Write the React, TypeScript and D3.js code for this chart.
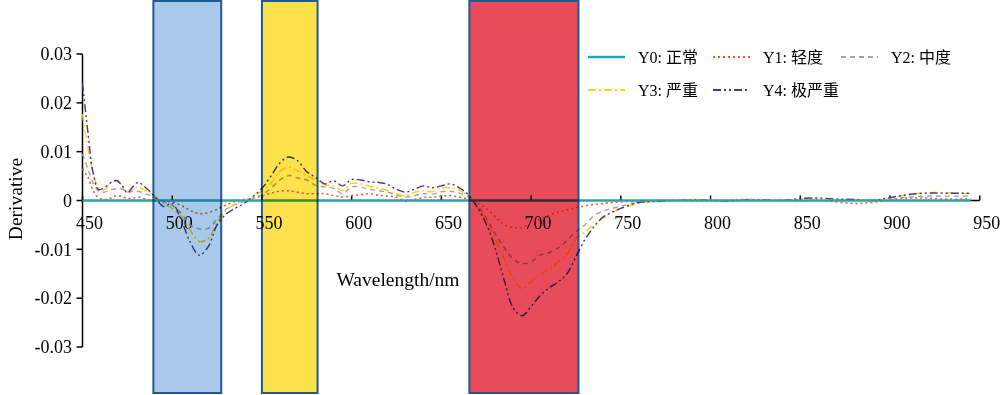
import React from 'react';
import * as d3 from 'd3';

// ---------- data ----------
const wavelengths = [450, 453, 456, 459, 462, 466, 469, 472, 475, 478, 481, 485, 490, 495, 500, 505, 510, 515, 520, 525, 530, 535, 540, 545, 550, 555, 560, 565, 570, 575, 580, 585, 590, 595, 600, 605, 610, 615, 620, 625, 630, 635, 640, 645, 650, 655, 660, 665, 670, 675, 680, 685, 690, 695, 700, 705, 710, 715, 720, 725, 730, 735, 740, 745, 750, 760, 770, 780, 790, 800, 810, 820, 830, 840, 850, 860, 870, 880, 890, 900, 910, 920, 930, 945];

const y0Wavelengths = [450, 945];
const y0Values = [0, 0];

const y1Values = [0.0065, 0.0048, 0.002, 0.0005, 0.0002, 0.0005, 0.001, 0.0008, 0.0004, 0.0005, 0.0007, 0.0003, 0, -0.0002, -0.0003, -0.001, -0.002, -0.0027, -0.0025, -0.0018, -0.0009, -0.0002, 0.0002, 0.0005, 0.0009, 0.0015, 0.0019, 0.002, 0.0017, 0.0014, 0.0014, 0.0014, 0.001, 0.0007, 0.001, 0.0012, 0.0014, 0.0011, 0.0009, 0.0007, -0.0002, 0.0002, 0.0006, 0.0007, 0.0009, 0.001, 0.0007, 0.0003, -0.0005, -0.0016, -0.0033, -0.0049, -0.0055, -0.0055, -0.0046, -0.0038, -0.003, -0.0024, -0.0019, -0.0015, -0.0011, -0.0008, -0.0006, -0.0004, -0.0003, -0.0001, 0, 0.0001, -0.0001, 0, 0.0001, 0.0002, 0.0001, 0.0001, -0.0001, 0.0001, -0.0003, -0.0006, -0.0004, 0.0001, 0.0005, 0.0005, 0.0003, 0.0003];

const y2Values = [0.0095, 0.0065, 0.0035, 0.0019, 0.0017, 0.0022, 0.0024, 0.0024, 0.0017, 0.0019, 0.0019, 0.0014, 0.0007, -0.0003, -0.001, -0.0026, -0.005, -0.0058, -0.0057, -0.0038, -0.0018, -0.0008, -0.0002, 0.0004, 0.0012, 0.0025, 0.0042, 0.0051, 0.0046, 0.0042, 0.0031, 0.0028, 0.0025, 0.0014, 0.0028, 0.0027, 0.0023, 0.002, 0.0017, 0.0011, 0.0007, 0.001, 0.0014, 0.0013, 0.0018, 0.0019, 0.0015, 0.0008, -0.001, -0.0036, -0.0068, -0.0096, -0.012, -0.0129, -0.0126, -0.0112, -0.0107, -0.0097, -0.0082, -0.0064, -0.005, -0.0031, -0.0022, -0.0016, -0.0012, -0.0003, 0, 0.0001, 0.0001, 0, 0, 0.0002, 0.0001, 0, 0.0002, 0.0002, 0.0001, 0, 0, 0.0002, 0.0007, 0.0009, 0.0009, 0.0009];

const y3Values = [0.0177, 0.0109, 0.0055, 0.0026, 0.0022, 0.0037, 0.0041, 0.0031, 0.0017, 0.0024, 0.0027, 0.0021, 0.001, -0.0007, -0.0016, -0.0033, -0.0061, -0.0084, -0.0078, -0.0045, -0.002, -0.0008, 0, 0.0008, 0.0019, 0.0035, 0.006, 0.0068, 0.0061, 0.0051, 0.0042, 0.0032, 0.003, 0.002, 0.0035, 0.0034, 0.0029, 0.0025, 0.0021, 0.0014, 0.001, 0.0017, 0.002, 0.0018, 0.0026, 0.0026, 0.0021, 0.001, -0.0012, -0.004, -0.0078, -0.012, -0.016, -0.018, -0.0166, -0.0152, -0.0141, -0.0126, -0.011, -0.0078, -0.0064, -0.005, -0.0037, -0.0025, -0.0017, -0.0006, -0.0002, 0.0001, 0.0002, 0.0001, 0, 0.0001, 0.0002, 0.0001, 0.0001, 0.0002, 0.0001, 0, -0.0002, 0.0004, 0.0012, 0.0016, 0.0016, 0.0014];

const y4Values = [0.024, 0.014, 0.0055, 0.0022, 0.0026, 0.0037, 0.0041, 0.0031, 0.0016, 0.0028, 0.0037, 0.0027, 0.0009, -0.0012, -0.0006, -0.004, -0.0085, -0.0112, -0.0095, -0.005, -0.0028, -0.0016, -0.0006, 0.0008, 0.0025, 0.005, 0.0077, 0.0089, 0.0081, 0.0059, 0.0047, 0.0034, 0.004, 0.003, 0.0043, 0.0042, 0.0038, 0.0037, 0.0033, 0.0023, 0.0017, 0.0023, 0.003, 0.0026, 0.003, 0.0034, 0.0026, 0.0012, -0.0014, -0.0048, -0.0098, -0.0163, -0.022, -0.0236, -0.0217, -0.0195, -0.0179, -0.0167, -0.015, -0.0115, -0.008, -0.0054, -0.0034, -0.0024, -0.0016, -0.0004, -0.0002, 0, 0.0001, 0, -0.0001, 0.0001, 0.0001, 0, 0.0004, 0.0005, 0.0003, 0.0002, 0, 0.0006, 0.0012, 0.0015, 0.0015, 0.0015];

const seriesNames = ['Y0: 正常', 'Y1: 轻度', 'Y2: 中度', 'Y3: 严重', 'Y4: 极严重'];
const xTicks = [450, 500, 550, 600, 650, 700, 750, 800, 850, 900, 950];
const yTicks = [0.03, 0.02, 0.01, 0, -0.01, -0.02, -0.03];
const yTickLabels = ['0.03', '0.02', '0.01', '0', '-0.01', '-0.02', '-0.03'];
const bandStarts = [489.5, 550, 665.6];
const bandEnds = [527.3, 581, 726.4];

// ---------- styles ----------
const seriesColors = ['#17aabb', '#f0522a', '#a3a3a3', '#ffd21a', '#3a3a96'];
const seriesDash = ['none', '2,3', '5,4', '8,3,2,3', '8,3,2,3,2,3'];
const seriesWidth = [2, 1.5, 1.4, 1.5, 1.4];
const bandFills = ['#a9c9eb', '#ffe14b', '#e84c5b'];
const bandStroke = '#1e5b96';

const W = 1000;
const H = 395;
const serif = '"Liberation Serif", "Times New Roman", serif';
const legendFont = '"Liberation Serif", "Noto Sans CJK SC", serif';

export default function App() {
  const x = d3.scaleLinear().domain([450, 950]).range([82.5, 979.7]);
  const y = d3.scaleLinear().domain([-0.03, 0.03]).range([347, 54]);

  const line = d3
    .line<[number, number]>()
    .x((d) => x(d[0]))
    .y((d) => y(d[1]))
    .curve(d3.curveCatmullRom.alpha(0.5));

  const series: [number, number][][] = [
    y0Wavelengths.map((w, i) => [w, y0Values[i]] as [number, number]),
    wavelengths.map((w, i) => [w, y1Values[i]] as [number, number]),
    wavelengths.map((w, i) => [w, y2Values[i]] as [number, number]),
    wavelengths.map((w, i) => [w, y3Values[i]] as [number, number]),
    wavelengths.map((w, i) => [w, y4Values[i]] as [number, number]),
  ];
  const drawOrder = [1, 2, 3, 4, 0];

  const legendCols = [588, 713, 841];
  const legendRows = [57, 90];

  return (
    <svg width={W} height={H} style={{ position: 'absolute', left: 0, top: 0, background: '#fff' }}>
      {/* axes */}
      <g fontFamily={serif} fontSize={18} fill="#000">
        <line x1={x(450)} x2={x(950)} y1={y(0)} y2={y(0)} stroke="#000" strokeWidth={1.5} />
        {xTicks.map((t) => (
          <g key={'xt' + t}>
            <line x1={x(t)} x2={x(t)} y1={y(0)} y2={y(0) - 5} stroke="#000" strokeWidth={1.5} />
            <text x={x(t) + 7} y={229} textAnchor="middle">{t}</text>
          </g>
        ))}
        <line x1={x(450)} x2={x(450)} y1={y(0.03)} y2={y(-0.03)} stroke="#000" strokeWidth={1.5} />
        {yTicks.map((t, i) => (
          <g key={'yt' + i}>
            <line x1={x(450) - 6} x2={x(450)} y1={y(t)} y2={y(t)} stroke="#000" strokeWidth={1.5} />
            <text x={72} y={y(t)} dy="0.35em" textAnchor="end">{yTickLabels[i]}</text>
          </g>
        ))}
        <text x={398} y={286} textAnchor="middle" fontSize={19.5}>Wavelength/nm</text>
        <text transform="translate(22,199) rotate(-90)" textAnchor="middle" fontSize={19.5}>Derivative</text>
      </g>

      {/* series */}
      {drawOrder.map((k) => (
        <path
          key={'s' + k}
          d={line(series[k]) || ''}
          fill="none"
          stroke={seriesColors[k]}
          strokeWidth={seriesWidth[k]}
          strokeDasharray={seriesDash[k]}
        />
      ))}

      {/* bands (multiply blend) */}
      {bandStarts.map((b, i) => (
        <rect
          key={'b' + i}
          x={x(b)}
          y={1}
          width={x(bandEnds[i]) - x(b)}
          height={392}
          fill={bandFills[i]}
          stroke={bandStroke}
          strokeWidth={2}
          style={{ mixBlendMode: 'multiply' }}
        />
      ))}

      {/* legend */}
      <g fontFamily={legendFont} fontSize={16} fill="#000">
        {seriesNames.map((name, i) => {
          const cx = legendCols[i % 3];
          const cy = legendRows[Math.floor(i / 3)];
          return (
            <g key={'lg' + i}>
              <line
                x1={cx}
                x2={cx + 37}
                y1={cy}
                y2={cy}
                stroke={seriesColors[i]}
                strokeWidth={i === 0 ? 2.5 : 1.8}
                strokeDasharray={seriesDash[i]}
              />
              <text x={cx + 50} y={cy} dy="0.35em">{name}</text>
            </g>
          );
        })}
      </g>
    </svg>
  );
}
